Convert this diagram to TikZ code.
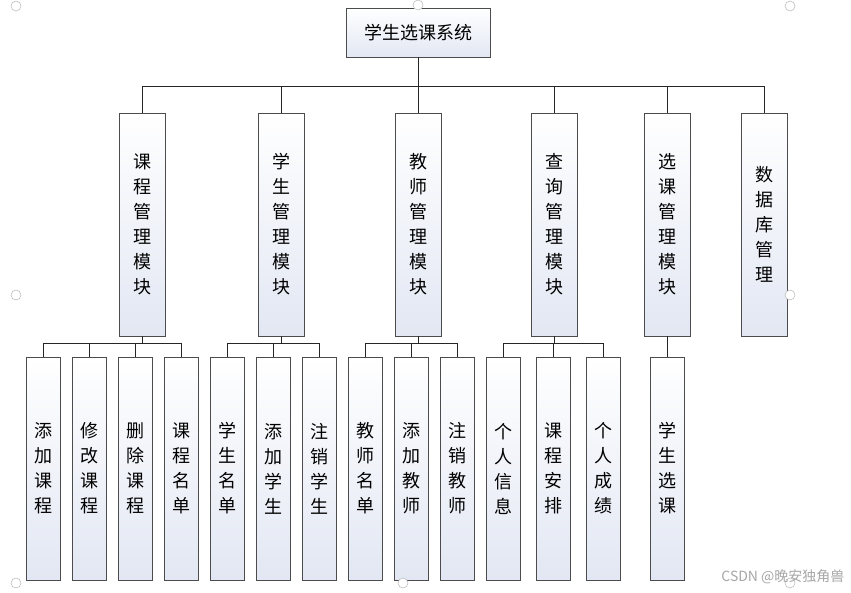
\documentclass[tikz,border=0pt]{standalone}
\usepackage{fontspec}
\newfontfamily\cjk{Noto Sans CJK SC}
\definecolor{bfill}{RGB}{226,231,243}
\begin{document}
\begin{tikzpicture}[x=1pt,y=-1pt,
  box/.style={draw=black!70,line width=0.8pt,top color=white,bottom color=bfill,font=\cjk\fontsize{18}{25}\selectfont,align=center,inner sep=0pt},
  mod/.style={box,minimum width=46,minimum height=223},
  leaf/.style={box,minimum width=34,minimum height=223},
  ln/.style={draw=black!85,line width=0.9pt},
  hd/.style={draw=black!25,fill=white,line width=0.6pt}]
\useasboundingbox (0,0) rectangle (851,592);
\node[box,minimum width=144,minimum height=49] (root) at (418,32.5) {学生选课系统};
\foreach \n/\x/\t in {m1/142/课\\程\\管\\理\\模\\块, m2/281/学\\生\\管\\理\\模\\块, m3/418/教\\师\\管\\理\\模\\块, m4/554/查\\询\\管\\理\\模\\块, m5/667/选\\课\\管\\理\\模\\块, m6/764/数\\据\\库\\管\\理}
  \node[mod] (\n) at (\x,224.5) {\t};
\foreach \n/\x/\t in {a1/43/添\\加\\课\\程, a2/89/修\\改\\课\\程, a3/135/删\\除\\课\\程, a4/181/课\\程\\名\\单,
  b1/227/学\\生\\名\\单, b2/273/添\\加\\学\\生, b3/319/注\\销\\学\\生,
  c1/365/教\\师\\名\\单, c2/411/添\\加\\教\\师, c3/457/注\\销\\教\\师,
  d1/503/个\\人\\信\\息, d2/553/课\\程\\安\\排, d3/603/个\\人\\成\\绩, e1/667/学\\生\\选\\课}
  \node[leaf] (\n) at (\x,468.5) {\t};
\coordinate (bus) at (418,86);
\draw[ln] (root.south) -- (bus);
\foreach \m in {m1,m2,m3,m4,m5,m6} \draw[ln] (bus -| \m.north) -- (\m.north);
\draw[ln] (bus -| m1.north) -- (bus -| m6.north);
\foreach \m/\f/\l/\k in {m1/a1/a4/{a1,a2,a3,a4}, m2/b1/b3/{b1,b2,b3}, m3/c1/c3/{c1,c2,c3}, m4/d1/d3/{d1,d2,d3}}{
  \coordinate (sb) at (0,343);
  \draw[ln] (\m.south) -- (sb -| \m.south);
  \draw[ln] (sb -| \f.north) -- (sb -| \l.north);
  \foreach \c in \k \draw[ln] (sb -| \c.north) -- (\c.north);
}
\draw[ln] (m5.south) -- (e1.north);
\foreach \p in {(16,6),(418,5),(790,6),(16,295),(790,295),(16,583),(403,583),(790,583)}
  \draw[hd] \p circle (5);
\node[text=black!35,font=\cjk\fontsize{14}{16}\selectfont,anchor=east] (wm) at (848,577) {CSDN @晚安独角兽};
\end{tikzpicture}
\end{document}
